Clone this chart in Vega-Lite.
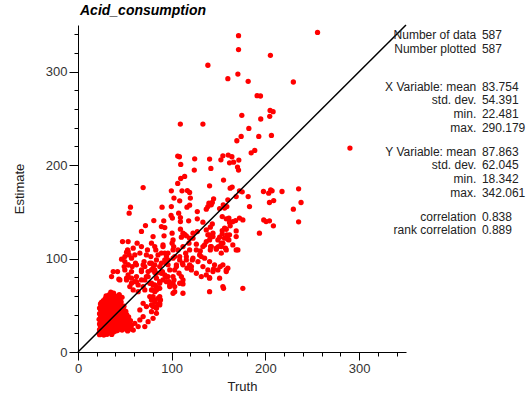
{
"$schema":"https://vega.github.io/schema/vega-lite/v6.json",
"width":328,"height":327,
"autosize":{"type":"none"},
"padding":{"left":78,"top":25,"right":125,"bottom":42},
"config":{"view":{"stroke":null},"font":"Liberation Sans",
 "axis":{"labelOverlap":false,"labelFlush":false,"grid":false,"domainColor":"#000","tickColor":"#000","labelPadding":2,"labelFontSize":13,"labelColor":"#333","labelFont":"Liberation Sans","titleFont":"Liberation Sans","titleFontSize":13,"titleFontWeight":"normal","titleColor":"#222"},
 "axisX":{"titlePadding":5},"axisY":{"titlePadding":19}},
"title":{"text":"Acid_consumption","anchor":"start","frame":"group","fontStyle":"italic","fontWeight":"bold","fontSize":14,"font":"Liberation Sans","color":"#000","offset":4,"dx":2},
"layer":[
{"data":{"values":[
{"truth":171.3,"estimate":338.6},{"truth":255.6,"estimate":342.06},{"truth":171.3,"estimate":323.7},{"truth":205.3,"estimate":317.5},{"truth":138.6,"estimate":306.9},{"truth":170.6,"estimate":297.5},{"truth":159.9,"estimate":292.5},{"truth":181.6,"estimate":289.7},{"truth":229.8,"estimate":289},{"truth":191.1,"estimate":274.4},{"truth":194.7,"estimate":274},{"truth":205,"estimate":258.6},{"truth":208.2,"estimate":257.2},{"truth":174.8,"estimate":253.3},{"truth":204.6,"estimate":252.2},{"truth":195,"estimate":249.4},{"truth":109.2,"estimate":244},{"truth":133.3,"estimate":244},{"truth":182.3,"estimate":239.3},{"truth":174.1,"estimate":230.7},{"truth":192.9,"estimate":230.7},{"truth":206.4,"estimate":231.8},{"truth":169.5,"estimate":226.1},{"truth":290.18,"estimate":218.3},{"truth":188.6,"estimate":215.7},{"truth":184.8,"estimate":213.2},{"truth":106.4,"estimate":209.7},{"truth":108.2,"estimate":209},{"truth":124.5,"estimate":206.8},{"truth":140.4,"estimate":206.5},{"truth":154.6,"estimate":210},{"truth":160.3,"estimate":210.8},{"truth":164.2,"estimate":209},{"truth":152.5,"estimate":205.7},{"truth":161.7,"estimate":202.5},{"truth":166,"estimate":203.2},{"truth":171.6,"estimate":205.4},{"truth":109.6,"estimate":200.8},{"truth":141.8,"estimate":196.5},{"truth":170.2,"estimate":197.9},{"truth":171.3,"estimate":194.7},{"truth":124.1,"estimate":194.7},{"truth":113.8,"estimate":187.9},{"truth":109.6,"estimate":185.7},{"truth":155.3,"estimate":184},{"truth":106.4,"estimate":180.4},{"truth":140.4,"estimate":177.9},{"truth":99.6,"estimate":172.5},{"truth":111,"estimate":172.5},{"truth":116.7,"estimate":172.8},{"truth":119.1,"estimate":170.7},{"truth":164.5,"estimate":176.5},{"truth":162.4,"estimate":175.4},{"truth":175.2,"estimate":171.4},{"truth":172.3,"estimate":172.5},{"truth":181.6,"estimate":166.4},{"truth":197.9,"estimate":171.8},{"truth":205.6,"estimate":173.6},{"truth":207.1,"estimate":172.5},{"truth":203.5,"estimate":170},{"truth":217.7,"estimate":171.8},{"truth":235.4,"estimate":174.7},{"truth":102.4,"estimate":164.7},{"truth":119.9,"estimate":164.7},{"truth":144.7,"estimate":164},{"truth":168.8,"estimate":166.4},{"truth":69.5,"estimate":176},
{"truth":89.7,"estimate":155},{"truth":108.5,"estimate":161.8},{"truth":116.3,"estimate":155},{"truth":119.1,"estimate":157.2},{"truth":139.7,"estimate":159.3},{"truth":143.3,"estimate":160},{"truth":138.6,"estimate":155.7},{"truth":142.2,"estimate":157.5},{"truth":136.9,"estimate":152.9},{"truth":155,"estimate":157.5},{"truth":158.8,"estimate":155.7},{"truth":151.1,"estimate":153.5},{"truth":159.9,"estimate":162.9},{"truth":183,"estimate":155.7},{"truth":204.3,"estimate":160},{"truth":208.8,"estimate":162.1},{"truth":229.8,"estimate":152.9},{"truth":238,"estimate":160},{"truth":198.2,"estimate":141.4},{"truth":204.3,"estimate":140.4},{"truth":208.5,"estimate":135},{"truth":193.6,"estimate":127.2},{"truth":235.4,"estimate":139.3},{"truth":80.9,"estimate":140.7},{"truth":91.5,"estimate":140.4},{"truth":99.3,"estimate":146.1},{"truth":100.7,"estimate":143.3},{"truth":107.4,"estimate":148.6},{"truth":109.3,"estimate":143.9},{"truth":109.3,"estimate":139.6},{"truth":118.1,"estimate":140.4},{"truth":127.3,"estimate":150.3},{"truth":127.3,"estimate":142.5},{"truth":133.3,"estimate":138.9},{"truth":141.2,"estimate":133.6},{"truth":143.3,"estimate":137.1},{"truth":153.9,"estimate":145},{"truth":161,"estimate":143.3},{"truth":161.7,"estimate":138.6},{"truth":162.4,"estimate":135},{"truth":168.1,"estimate":140.7},{"truth":168.8,"estimate":129.6},{"truth":172.3,"estimate":143.3},{"truth":175.9,"estimate":141.4},{"truth":170.6,"estimate":109.3},{"truth":175.9,"estimate":68.2},{"truth":154.6,"estimate":70},{"truth":155.3,"estimate":68.2},{"truth":158.2,"estimate":87.9},{"truth":151.8,"estimate":91.4},{"truth":140.4,"estimate":79.6},{"truth":144.7,"estimate":88.9},{"truth":200.7,"estimate":139.6},{"truth":156.4,"estimate":154},{"truth":158.2,"estimate":142.5},{"truth":165,"estimate":139.5},{"truth":156.4,"estimate":132.5},{"truth":158.2,"estimate":131.4},{"truth":152.9,"estimate":116.5},{"truth":159.9,"estimate":120.7},
{"truth":154.6,"estimate":116.5},{"truth":157.4,"estimate":111.1},{"truth":161,"estimate":120},{"truth":158.8,"estimate":125.4},{"truth":153.9,"estimate":126.4},{"truth":149.7,"estimate":112.8},{"truth":147.6,"estimate":110},{"truth":151.1,"estimate":122.9},{"truth":153.9,"estimate":130},{"truth":141.5,"estimate":112.8},{"truth":141.5,"estimate":122.9},{"truth":139.7,"estimate":125.4},{"truth":144,"estimate":127.2},{"truth":136.9,"estimate":130.7},{"truth":141.2,"estimate":109.3},{"truth":136.9,"estimate":118.2},{"truth":122.7,"estimate":121.8},{"truth":122.7,"estimate":127.2},{"truth":126.3,"estimate":115.4},{"truth":130.5,"estimate":108.2},{"truth":133.3,"estimate":112.8},{"truth":127.3,"estimate":128.9},{"truth":131.6,"estimate":102.1},{"truth":113.8,"estimate":126},{"truth":109.3,"estimate":131.5},{"truth":112,"estimate":112.8},{"truth":114.9,"estimate":105.8},{"truth":118.4,"estimate":116.5},{"truth":119.1,"estimate":109.3},{"truth":115.6,"estimate":102.1},{"truth":122,"estimate":98.6},{"truth":119.1,"estimate":93.3},{"truth":116.3,"estimate":89.7},{"truth":121,"estimate":87.9},{"truth":101.4,"estimate":120},{"truth":102.1,"estimate":112.8},{"truth":106.7,"estimate":109.3},{"truth":103.2,"estimate":102.1},{"truth":108.5,"estimate":98.6},{"truth":105,"estimate":93.3},{"truth":111.4,"estimate":95},{"truth":103.2,"estimate":87.9},{"truth":107.8,"estimate":84.3},{"truth":110.3,"estimate":80.7},{"truth":101.4,"estimate":80.7},{"truth":90.7,"estimate":112.8},{"truth":94.4,"estimate":102.8},{"truth":92.6,"estimate":98.6},{"truth":96.1,"estimate":93.3},{"truth":87.2,"estimate":91.4},{"truth":81.9,"estimate":93.3},{"truth":78.4,"estimate":87.9},{"truth":83.7,"estimate":84.3},{"truth":90.1,"estimate":86.1},{"truth":93.6,"estimate":80.7},{"truth":87.2,"estimate":75.3},{"truth":81.9,"estimate":71.7},{"truth":79.5,"estimate":66.4},{"truth":83.7,"estimate":66.4},{"truth":88,"estimate":55.7},{"truth":85.4,"estimate":51.4},{"truth":78.4,"estimate":55.7},{"truth":80.1,"estimate":48.6},{"truth":97.1,"estimate":75.3},{"truth":97.9,"estimate":70},{"truth":103.2,"estimate":70},{"truth":112,"estimate":72.9},{"truth":112,"estimate":62.9},{"truth":101.4,"estimate":62.9},
{"truth":112,"estimate":127.2},{"truth":115.6,"estimate":124.3},{"truth":110.3,"estimate":122.9},{"truth":119.1,"estimate":121.8},{"truth":138.6,"estimate":125.4},{"truth":144,"estimate":123.6},{"truth":140.4,"estimate":120},{"truth":149.3,"estimate":120},{"truth":156.4,"estimate":121.8},{"truth":161.7,"estimate":125.4},{"truth":168.8,"estimate":123.6},{"truth":135.1,"estimate":114.6},{"truth":142.2,"estimate":112.8},{"truth":147.6,"estimate":111.1},{"truth":152.9,"estimate":112.8},{"truth":158.2,"estimate":109.3},{"truth":152.9,"estimate":105.8},{"truth":165.2,"estimate":114.6},{"truth":168.8,"estimate":109.3},{"truth":126.3,"estimate":109.3},{"truth":129.8,"estimate":103.9},{"truth":135.1,"estimate":100.4},{"truth":140.4,"estimate":96.8},{"truth":145.7,"estimate":93.3},{"truth":133.3,"estimate":91.4},{"truth":138.6,"estimate":87.9},{"truth":128,"estimate":96.8},{"truth":122.7,"estimate":100.4},{"truth":121,"estimate":91.4},{"truth":126.3,"estimate":84.3},{"truth":131.6,"estimate":80.7},{"truth":136.9,"estimate":82.5},{"truth":144,"estimate":86.1},{"truth":149.3,"estimate":87.9},{"truth":154.6,"estimate":93.3},{"truth":159.9,"estimate":89.7},{"truth":151.1,"estimate":79},{"truth":158.2,"estimate":86.1},{"truth":140.4,"estimate":79},{"truth":140.4,"estimate":64.6},{"truth":103.2,"estimate":64.6},{"truth":80.1,"estimate":71.8},{"truth":83.7,"estimate":70},{"truth":81.9,"estimate":64.6},{"truth":78.4,"estimate":66.4},{"truth":87.2,"estimate":68.2},{"truth":90.7,"estimate":77.1},{"truth":96,"estimate":80.7},{"truth":101.4,"estimate":73.6},{"truth":108.5,"estimate":73.6},{"truth":112,"estimate":77.1},{"truth":97.9,"estimate":87.9},{"truth":105,"estimate":91.4},{"truth":112,"estimate":93.3},{"truth":115.6,"estimate":98.6},{"truth":108.5,"estimate":102.1},{"truth":101.4,"estimate":100.4},{"truth":94.4,"estimate":95},{"truth":81.9,"estimate":87.9},{"truth":78.4,"estimate":95},{"truth":83.7,"estimate":98.6},{"truth":89,"estimate":105.8},{"truth":96,"estimate":105.8},{"truth":101.4,"estimate":109.3},{"truth":90.7,"estimate":114.6},{"truth":81.9,"estimate":112.8},{"truth":80.1,"estimate":59.3},{"truth":85.4,"estimate":57.5},{"truth":81.9,"estimate":53.9},{"truth":87.2,"estimate":52.1},{"truth":78.4,"estimate":50.4},{"truth":83.7,"estimate":46.8},
{"truth":56,"estimate":155},{"truth":54.6,"estimate":148.6},{"truth":99.6,"estimate":155.7},{"truth":72,"estimate":135.3},{"truth":67.7,"estimate":129},{"truth":89,"estimate":134.3},{"truth":92.6,"estimate":133.2},{"truth":80.1,"estimate":123.6},{"truth":91.8,"estimate":124.3},{"truth":100.4,"estimate":127.2},{"truth":100.4,"estimate":116.5},{"truth":47.5,"estimate":118.2},{"truth":53.5,"estimate":118.2},{"truth":63.1,"estimate":116.5},{"truth":78.4,"estimate":116.5},{"truth":58.9,"estimate":111.1},{"truth":52.9,"estimate":109.3},{"truth":51.8,"estimate":106.8},{"truth":54.6,"estimate":103.9},{"truth":67.7,"estimate":112.8},{"truth":74.1,"estimate":109.3},{"truth":83,"estimate":109.3},{"truth":85.4,"estimate":103.9},{"truth":73,"estimate":103.9},{"truth":77.7,"estimate":102.1},{"truth":92.6,"estimate":105.8},{"truth":96.1,"estimate":98.6},{"truth":89,"estimate":95},{"truth":46.5,"estimate":99.3},{"truth":50,"estimate":96.8},{"truth":53.5,"estimate":93.3},{"truth":49.3,"estimate":91.4},{"truth":57.8,"estimate":91.4},{"truth":61.4,"estimate":95},{"truth":70.5,"estimate":96.8},{"truth":71.3,"estimate":91.4},{"truth":76.6,"estimate":95},{"truth":80.1,"estimate":89.7},{"truth":81.9,"estimate":85},{"truth":74.8,"estimate":86.1},{"truth":67.7,"estimate":87.9},{"truth":37.6,"estimate":86.1},{"truth":42.2,"estimate":86.1},{"truth":43.6,"estimate":77.9},{"truth":53.5,"estimate":82.5},{"truth":57.1,"estimate":79},{"truth":60.6,"estimate":75.3},{"truth":51.8,"estimate":77.1},{"truth":62.4,"estimate":80.7},{"truth":64.2,"estimate":71.8},{"truth":55.3,"estimate":70},{"truth":71.3,"estimate":77.1},{"truth":74.8,"estimate":80.7},{"truth":78.4,"estimate":73.6},{"truth":83.7,"estimate":79},{"truth":89,"estimate":84.3},{"truth":92.6,"estimate":82.5},{"truth":87.2,"estimate":73.6},{"truth":94.4,"estimate":75.3},{"truth":97.9,"estimate":71.8},{"truth":102.4,"estimate":77.1},{"truth":35.8,"estimate":80.7},{"truth":44.7,"estimate":77.1},
{"truth":50,"estimate":102.1},{"truth":53.5,"estimate":107.5},{"truth":57.1,"estimate":100.4},{"truth":60.6,"estimate":103.9},{"truth":66,"estimate":105.8},{"truth":53.5,"estimate":93.3},{"truth":62.4,"estimate":93.3},{"truth":50,"estimate":87.9},{"truth":57.1,"estimate":86.1},{"truth":67.7,"estimate":86.1},{"truth":69.5,"estimate":93.3},{"truth":51.8,"estimate":79},{"truth":57.1,"estimate":73.6},{"truth":62.4,"estimate":75.3},{"truth":67.7,"estimate":77.1},{"truth":73,"estimate":80.7},{"truth":76.6,"estimate":73.6},{"truth":69.5,"estimate":70},{"truth":58.9,"estimate":66.4},{"truth":64.2,"estimate":64.6},{"truth":71.3,"estimate":66.4},{"truth":76.6,"estimate":59.3},{"truth":81.9,"estimate":55.7},{"truth":87.2,"estimate":59.3},{"truth":69.5,"estimate":52.1},{"truth":73,"estimate":48.6},{"truth":81.9,"estimate":48.6},{"truth":87.2,"estimate":50.4},{"truth":78.4,"estimate":43.2},{"truth":83.7,"estimate":41.4},{"truth":66,"estimate":45},{"truth":69.5,"estimate":37.9},{"truth":74.8,"estimate":32.5},{"truth":80.1,"estimate":36.1},{"truth":71.3,"estimate":27.2},{"truth":64.2,"estimate":27.2},{"truth":60.6,"estimate":30.7},{"truth":66,"estimate":34.3},
{"truth":23,"estimate":18.5},{"truth":25,"estimate":19.5},{"truth":27,"estimate":18.4},{"truth":24,"estimate":21},{"truth":29,"estimate":20},{"truth":31,"estimate":19},{"truth":26,"estimate":22},{"truth":33,"estimate":21},{"truth":28,"estimate":18.4},{"truth":35,"estimate":20.5},{"truth":30,"estimate":22.5},{"truth":38,"estimate":21.5},{"truth":22.5,"estimate":20.2},{"truth":36,"estimate":18.8},
{"truth":23,"estimate":24},{"truth":25,"estimate":26},{"truth":27,"estimate":23.5},{"truth":29,"estimate":25},{"truth":31,"estimate":27},{"truth":33,"estimate":24},{"truth":35,"estimate":26},{"truth":37,"estimate":23},{"truth":39,"estimate":25.5},{"truth":41,"estimate":27},{"truth":43,"estimate":24.5},{"truth":45,"estimate":26},{"truth":47,"estimate":23.5},{"truth":49,"estimate":25},{"truth":52,"estimate":24},{"truth":55,"estimate":25.5},{"truth":24,"estimate":27.5},{"truth":28,"estimate":27},{"truth":32,"estimate":22.8},{"truth":36,"estimate":27.8},{"truth":40,"estimate":22.6},{"truth":44,"estimate":28},{"truth":48,"estimate":27.5},{"truth":51,"estimate":27},{"truth":57,"estimate":24.5},{"truth":59,"estimate":23.5},{"truth":26,"estimate":24.8},{"truth":34,"estimate":28.5},{"truth":42,"estimate":23},{"truth":53,"estimate":22.5},
{"truth":23,"estimate":30},{"truth":25,"estimate":32},{"truth":27,"estimate":29},{"truth":29,"estimate":31},{"truth":31,"estimate":33},{"truth":33,"estimate":30},{"truth":35,"estimate":32},{"truth":37,"estimate":29.5},{"truth":39,"estimate":31},{"truth":41,"estimate":33},{"truth":43,"estimate":30},{"truth":45,"estimate":32.5},{"truth":47,"estimate":29},{"truth":49,"estimate":31.5},{"truth":51,"estimate":33.5},{"truth":53,"estimate":30},{"truth":55,"estimate":31},{"truth":57,"estimate":28.5},{"truth":24,"estimate":33.5},{"truth":28,"estimate":33},{"truth":32,"estimate":28.8},{"truth":36,"estimate":34},{"truth":40,"estimate":28.5},{"truth":44,"estimate":34},{"truth":48,"estimate":33.5},{"truth":52,"estimate":28.5},{"truth":30,"estimate":29.5},{"truth":38,"estimate":33},{"truth":46,"estimate":30.5},{"truth":54,"estimate":27},
{"truth":22.5,"estimate":35},{"truth":24,"estimate":37},{"truth":26,"estimate":35.5},{"truth":28,"estimate":38},{"truth":30,"estimate":36},{"truth":32,"estimate":39},{"truth":34,"estimate":35},{"truth":36,"estimate":37.5},{"truth":38,"estimate":40},{"truth":40,"estimate":36},{"truth":42,"estimate":38.5},{"truth":44,"estimate":35.5},{"truth":46,"estimate":39},{"truth":48,"estimate":36.5},{"truth":50,"estimate":38.5},{"truth":52,"estimate":35},{"truth":54,"estimate":37.5},{"truth":25,"estimate":39.5},{"truth":29,"estimate":34.5},{"truth":33,"estimate":37},{"truth":37,"estimate":34.8},{"truth":41,"estimate":40},{"truth":45,"estimate":37},{"truth":49,"estimate":35},{"truth":56,"estimate":33.5},
{"truth":23,"estimate":41},{"truth":25,"estimate":43},{"truth":27,"estimate":45},{"truth":29,"estimate":41.5},{"truth":31,"estimate":44},{"truth":33,"estimate":42},{"truth":35,"estimate":45.5},{"truth":37,"estimate":42.5},{"truth":39,"estimate":44},{"truth":41,"estimate":41.5},{"truth":43,"estimate":45},{"truth":45,"estimate":42},{"truth":47,"estimate":44.5},{"truth":49,"estimate":41},{"truth":51,"estimate":43.5},{"truth":24,"estimate":45.5},{"truth":28,"estimate":43},{"truth":32,"estimate":40.5},{"truth":36,"estimate":40.8},{"truth":40,"estimate":46},{"truth":44,"estimate":43},{"truth":48,"estimate":46},{"truth":52,"estimate":40},{"truth":30,"estimate":46},{"truth":34,"estimate":43.5},{"truth":38,"estimate":41.5},{"truth":42,"estimate":44},{"truth":46,"estimate":41},
{"truth":23,"estimate":47},{"truth":25,"estimate":49},{"truth":27,"estimate":51},{"truth":29,"estimate":47.5},{"truth":31,"estimate":50},{"truth":33,"estimate":48},{"truth":35,"estimate":51.5},{"truth":37,"estimate":47},{"truth":39,"estimate":49.5},{"truth":41,"estimate":52},{"truth":43,"estimate":48},{"truth":45,"estimate":50},{"truth":47,"estimate":47},{"truth":49,"estimate":49},{"truth":24,"estimate":51.5},{"truth":28,"estimate":49},{"truth":32,"estimate":46.5},{"truth":36,"estimate":49},{"truth":40,"estimate":47.5},{"truth":44,"estimate":51},{"truth":30,"estimate":52},{"truth":34,"estimate":46.2},{"truth":38,"estimate":52},{"truth":42,"estimate":49.8},{"truth":46,"estimate":48.5},
{"truth":25,"estimate":53},{"truth":27,"estimate":55},{"truth":29,"estimate":57},{"truth":30,"estimate":53.5},{"truth":32,"estimate":56},{"truth":34,"estimate":54},{"truth":36,"estimate":57.5},{"truth":38,"estimate":54.5},{"truth":40,"estimate":56},{"truth":42,"estimate":53},{"truth":44,"estimate":55.5},{"truth":46,"estimate":53.5},{"truth":31,"estimate":58},{"truth":35,"estimate":55},{"truth":39,"estimate":58},{"truth":43,"estimate":57},{"truth":33,"estimate":52.5},{"truth":37,"estimate":52.8},
{"truth":30,"estimate":60},{"truth":33,"estimate":61},{"truth":36,"estimate":60.5},{"truth":38,"estimate":63},{"truth":41,"estimate":59.5},{"truth":44,"estimate":61.5},{"truth":35,"estimate":64},{"truth":47,"estimate":58.5},
{"truth":27,"estimate":40},{"truth":31,"estimate":38},{"truth":35,"estimate":41},{"truth":29,"estimate":52},{"truth":37,"estimate":50},{"truth":41,"estimate":36},{"truth":45,"estimate":28},{"truth":47,"estimate":38},{"truth":50,"estimate":31},{"truth":26,"estimate":30},{"truth":33,"estimate":26},{"truth":39,"estimate":47},{"truth":43,"estimate":40},{"truth":24,"estimate":23},{"truth":34,"estimate":33},{"truth":38,"estimate":27},{"truth":42,"estimate":31},{"truth":30,"estimate":40},{"truth":36,"estimate":44},{"truth":40,"estimate":50},{"truth":28,"estimate":46},{"truth":32,"estimate":34},{"truth":46,"estimate":34},{"truth":44,"estimate":38},{"truth":50,"estimate":44},{"truth":26,"estimate":41},{"truth":48,"estimate":40.5}
]},
"mark":{"type":"circle","size":28,"color":"#ff0000","opacity":1},
"encoding":{
 "x":{"field":"truth","type":"quantitative","scale":{"domain":[0,350],"nice":false},"axis":{"title":"Truth","values":[0,20,40,60,80,100,120,140,160,180,200,220,240,260,280,300,320,340],"labelExpr":"datum.value % 100 === 0 ? datum.label : ''","tickSize":{"condition":{"test":"datum.value % 100 === 0","value":8},"value":4}}},
 "y":{"field":"estimate","type":"quantitative","scale":{"domain":[0,350],"nice":false},"axis":{"title":"Estimate","values":[0,20,40,60,80,100,120,140,160,180,200,220,240,260,280,300,320,340],"labelExpr":"datum.value % 100 === 0 ? datum.label : ''","tickSize":{"condition":{"test":"datum.value % 100 === 0","value":9},"value":4}}}
}},
{"data":{"values":[{"truth":0,"estimate":0},{"truth":350,"estimate":350}]},
"mark":{"type":"line","color":"#000","strokeWidth":1.5},
"encoding":{
 "x":{"field":"truth","type":"quantitative","scale":{"domain":[0,350],"nice":false},"axis":{"title":"Truth","values":[0,20,40,60,80,100,120,140,160,180,200,220,240,260,280,300,320,340],"labelExpr":"datum.value % 100 === 0 ? datum.label : ''","tickSize":{"condition":{"test":"datum.value % 100 === 0","value":8},"value":4}}},
 "y":{"field":"estimate","type":"quantitative","scale":{"domain":[0,350],"nice":false},"axis":{"title":"Estimate","values":[0,20,40,60,80,100,120,140,160,180,200,220,240,260,280,300,320,340],"labelExpr":"datum.value % 100 === 0 ? datum.label : ''","tickSize":{"condition":{"test":"datum.value % 100 === 0","value":9},"value":4}}}
}},
{"data":{"values":[{"label":"Number of data","value":"587"},{"label":"Number plotted","value":"587"}]},
"transform":[{"aggregate":[{"op":"values","field":"label","as":"labels"},{"op":"values","field":"value","as":"vals"}]}],
"mark":{"type":"text","align":"right","baseline":"alphabetic","fontSize":12,"font":"Liberation Sans","color":"#222","lineHeight":14,"text":["Number of data","Number plotted"]},
"encoding":{
 "x":{"datum":425,"type":"quantitative","scale":{"domain":[0,350],"nice":false},"axis":{"title":"Truth","values":[0,20,40,60,80,100,120,140,160,180,200,220,240,260,280,300,320,340],"labelExpr":"datum.value % 100 === 0 ? datum.label : ''","tickSize":{"condition":{"test":"datum.value % 100 === 0","value":8},"value":4}}},
 "y":{"datum":335,"type":"quantitative","scale":{"domain":[0,350],"nice":false},"axis":{"title":"Estimate","values":[0,20,40,60,80,100,120,140,160,180,200,220,240,260,280,300,320,340],"labelExpr":"datum.value % 100 === 0 ? datum.label : ''","tickSize":{"condition":{"test":"datum.value % 100 === 0","value":9},"value":4}}}
}},
{"data":{"values":[{"group":"counts"}]},
"mark":{"type":"text","align":"left","baseline":"alphabetic","fontSize":12,"font":"Liberation Sans","color":"#222","lineHeight":14,"text":["587","587"]},
"encoding":{
 "x":{"datum":431,"type":"quantitative","scale":{"domain":[0,350],"nice":false},"axis":{"title":"Truth","values":[0,20,40,60,80,100,120,140,160,180,200,220,240,260,280,300,320,340],"labelExpr":"datum.value % 100 === 0 ? datum.label : ''","tickSize":{"condition":{"test":"datum.value % 100 === 0","value":8},"value":4}}},
 "y":{"datum":335,"type":"quantitative","scale":{"domain":[0,350],"nice":false},"axis":{"title":"Estimate","values":[0,20,40,60,80,100,120,140,160,180,200,220,240,260,280,300,320,340],"labelExpr":"datum.value % 100 === 0 ? datum.label : ''","tickSize":{"condition":{"test":"datum.value % 100 === 0","value":9},"value":4}}}
}},
{"data":{"values":[{"group":"x"}]},
"mark":{"type":"text","align":"right","baseline":"alphabetic","fontSize":12,"font":"Liberation Sans","color":"#222","lineHeight":13.7,"text":["X Variable: mean","std. dev.","min.","max."]},
"encoding":{
 "x":{"datum":425,"type":"quantitative","scale":{"domain":[0,350],"nice":false},"axis":{"title":"Truth","values":[0,20,40,60,80,100,120,140,160,180,200,220,240,260,280,300,320,340],"labelExpr":"datum.value % 100 === 0 ? datum.label : ''","tickSize":{"condition":{"test":"datum.value % 100 === 0","value":8},"value":4}}},
 "y":{"datum":279.7,"type":"quantitative","scale":{"domain":[0,350],"nice":false},"axis":{"title":"Estimate","values":[0,20,40,60,80,100,120,140,160,180,200,220,240,260,280,300,320,340],"labelExpr":"datum.value % 100 === 0 ? datum.label : ''","tickSize":{"condition":{"test":"datum.value % 100 === 0","value":9},"value":4}}}
}},
{"data":{"values":[{"group":"x"}]},
"mark":{"type":"text","align":"left","baseline":"alphabetic","fontSize":12,"font":"Liberation Sans","color":"#222","lineHeight":13.7,"text":["83.754","54.391","22.481","290.179"]},
"encoding":{
 "x":{"datum":431,"type":"quantitative","scale":{"domain":[0,350],"nice":false},"axis":{"title":"Truth","values":[0,20,40,60,80,100,120,140,160,180,200,220,240,260,280,300,320,340],"labelExpr":"datum.value % 100 === 0 ? datum.label : ''","tickSize":{"condition":{"test":"datum.value % 100 === 0","value":8},"value":4}}},
 "y":{"datum":279.7,"type":"quantitative","scale":{"domain":[0,350],"nice":false},"axis":{"title":"Estimate","values":[0,20,40,60,80,100,120,140,160,180,200,220,240,260,280,300,320,340],"labelExpr":"datum.value % 100 === 0 ? datum.label : ''","tickSize":{"condition":{"test":"datum.value % 100 === 0","value":9},"value":4}}}
}},
{"data":{"values":[{"group":"y"}]},
"mark":{"type":"text","align":"right","baseline":"alphabetic","fontSize":12,"font":"Liberation Sans","color":"#222","lineHeight":13.6,"text":["Y Variable: mean","std. dev.","min.","max."]},
"encoding":{
 "x":{"datum":425,"type":"quantitative","scale":{"domain":[0,350],"nice":false},"axis":{"title":"Truth","values":[0,20,40,60,80,100,120,140,160,180,200,220,240,260,280,300,320,340],"labelExpr":"datum.value % 100 === 0 ? datum.label : ''","tickSize":{"condition":{"test":"datum.value % 100 === 0","value":8},"value":4}}},
 "y":{"datum":210.1,"type":"quantitative","scale":{"domain":[0,350],"nice":false},"axis":{"title":"Estimate","values":[0,20,40,60,80,100,120,140,160,180,200,220,240,260,280,300,320,340],"labelExpr":"datum.value % 100 === 0 ? datum.label : ''","tickSize":{"condition":{"test":"datum.value % 100 === 0","value":9},"value":4}}}
}},
{"data":{"values":[{"group":"y"}]},
"mark":{"type":"text","align":"left","baseline":"alphabetic","fontSize":12,"font":"Liberation Sans","color":"#222","lineHeight":13.6,"text":["87.863","62.045","18.342","342.061"]},
"encoding":{
 "x":{"datum":431,"type":"quantitative","scale":{"domain":[0,350],"nice":false},"axis":{"title":"Truth","values":[0,20,40,60,80,100,120,140,160,180,200,220,240,260,280,300,320,340],"labelExpr":"datum.value % 100 === 0 ? datum.label : ''","tickSize":{"condition":{"test":"datum.value % 100 === 0","value":8},"value":4}}},
 "y":{"datum":210.1,"type":"quantitative","scale":{"domain":[0,350],"nice":false},"axis":{"title":"Estimate","values":[0,20,40,60,80,100,120,140,160,180,200,220,240,260,280,300,320,340],"labelExpr":"datum.value % 100 === 0 ? datum.label : ''","tickSize":{"condition":{"test":"datum.value % 100 === 0","value":9},"value":4}}}
}},
{"data":{"values":[{"group":"corr"}]},
"mark":{"type":"text","align":"right","baseline":"alphabetic","fontSize":12,"font":"Liberation Sans","color":"#222","lineHeight":13.7,"text":["correlation","rank correlation"]},
"encoding":{
 "x":{"datum":425,"type":"quantitative","scale":{"domain":[0,350],"nice":false},"axis":{"title":"Truth","values":[0,20,40,60,80,100,120,140,160,180,200,220,240,260,280,300,320,340],"labelExpr":"datum.value % 100 === 0 ? datum.label : ''","tickSize":{"condition":{"test":"datum.value % 100 === 0","value":8},"value":4}}},
 "y":{"datum":140.5,"type":"quantitative","scale":{"domain":[0,350],"nice":false},"axis":{"title":"Estimate","values":[0,20,40,60,80,100,120,140,160,180,200,220,240,260,280,300,320,340],"labelExpr":"datum.value % 100 === 0 ? datum.label : ''","tickSize":{"condition":{"test":"datum.value % 100 === 0","value":9},"value":4}}}
}},
{"data":{"values":[{"group":"corr"}]},
"mark":{"type":"text","align":"left","baseline":"alphabetic","fontSize":12,"font":"Liberation Sans","color":"#222","lineHeight":13.7,"text":["0.838","0.889"]},
"encoding":{
 "x":{"datum":431,"type":"quantitative","scale":{"domain":[0,350],"nice":false},"axis":{"title":"Truth","values":[0,20,40,60,80,100,120,140,160,180,200,220,240,260,280,300,320,340],"labelExpr":"datum.value % 100 === 0 ? datum.label : ''","tickSize":{"condition":{"test":"datum.value % 100 === 0","value":8},"value":4}}},
 "y":{"datum":140.5,"type":"quantitative","scale":{"domain":[0,350],"nice":false},"axis":{"title":"Estimate","values":[0,20,40,60,80,100,120,140,160,180,200,220,240,260,280,300,320,340],"labelExpr":"datum.value % 100 === 0 ? datum.label : ''","tickSize":{"condition":{"test":"datum.value % 100 === 0","value":9},"value":4}}}
}}
]
}
